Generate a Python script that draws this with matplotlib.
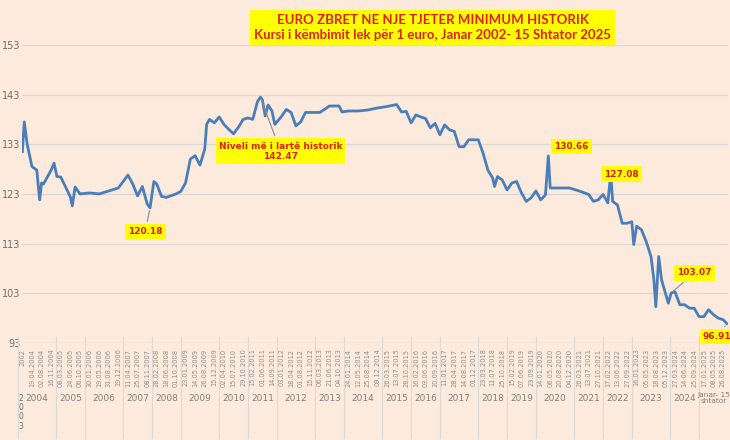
import matplotlib.pyplot as plt
import matplotlib.transforms as mtransforms

BG = "#FCEADC"
LINE = "#4A7EBB"
RED = "#E0201A"
YEL = "#FFFF00"
GREY = "#8C8C8C"

# series, x = position on the category axis
idx = [0, 0.2, 0.5, 1, 1.5, 1.8, 2, 2.2, 3, 3.3, 3.6, 4, 4.5, 5, 5.2, 5.5, 6, 7, 8, 9, 10,
       11, 11.5, 12, 12.5, 13, 13.3, 13.7, 14, 14.5, 15, 16, 16.5, 17, 17.5, 18, 18.5, 19,
       19.2, 19.5, 20, 20.5, 21, 21.5, 22, 22.5, 23, 23.5, 24, 24.5, 24.8, 25, 25.3, 25.6,
       26, 26.3, 27, 27.5, 28, 28.5, 29, 29.5, 30, 31, 32, 33, 33.3, 34, 35, 36, 37, 38, 39,
       39.5, 40, 40.5, 41, 41.5, 42, 42.5, 43, 43.5, 44, 44.5, 45, 45.5, 46, 46.5, 47, 47.5,
       48, 48.5, 49, 49.2, 49.5, 50, 50.5, 51, 51.5, 52, 52.5, 53, 53.5, 54, 54.5, 54.8, 55,
       56, 57, 58, 59, 59.5, 60, 60.5, 61, 61.3, 61.5, 62, 62.5, 63, 63.5, 63.7, 64, 64.5,
       65, 65.5, 65.8, 66, 66.3, 66.6, 67, 67.3, 67.6, 68, 68.5, 69, 69.5, 70, 70.5, 71,
       71.5, 72, 72.5, 73, 73.4]
vals = [131.5, 137.5, 133, 128.5, 127.8, 121.8, 125.2, 125, 127.8, 129.2, 126.5, 126.4,
        124.4, 122.4, 120.6, 124.4, 123, 123.2, 123, 123.6, 124.2, 126.8, 125, 122.6, 124.5,
        121, 120.18, 125.5, 125, 122.5, 122.3, 123, 123.5, 125.2, 130, 130.7, 128.8, 132,
        137, 138, 137.3, 138.5, 137, 136, 135.1, 136.4, 138, 138.3, 138, 141.6, 142.47, 142,
        138.7, 140.9, 139.7, 137, 138.6, 140, 139.4, 136.7, 137.5, 139.4, 139.4, 139.4,
        140.7, 140.7, 139.5, 139.7, 139.7, 139.9, 140.3, 140.6, 141, 139.5, 139.6, 137.3,
        138.9, 138.5, 138.2, 136.3, 137.2, 134.9, 136.9, 135.9, 135.6, 132.5, 132.5, 133.9,
        133.9, 133.9, 131.2, 127.8, 126.2, 124.5, 126.5, 125.8, 123.8, 125.2, 125.5, 123.2,
        121.5, 122.2, 123.6, 121.8, 122.8, 130.66, 124.2, 124.2, 124.2, 123.6, 122.9, 121.5,
        121.8, 122.9, 121.2, 127.08, 121.5, 120.8, 117.1, 117.1, 117.4, 112.8, 116.5, 115.8,
        113.4, 110.4, 105.7, 100.3, 110.4, 105.7, 103, 101, 103.07, 103.3, 100.7, 100.7, 100,
        100, 98.3, 98.3, 99.7, 98.7, 98, 97.7, 96.91]

date_labels = ["2002", "19.04.2004", "02.08.2004", "16.11.2004", "08.03.2005", "24.06.2005",
               "06.10.2005", "30.01.2006", "19.05.2006", "31.08.2006", "19.12.2006",
               "11.04.2007", "25.07.2007", "08.11.2007", "28.02.2008", "18.06.2008",
               "01.10.2008", "23.01.2009", "14.05.2009", "26.08.2009", "15.12.2009",
               "02.04.2010", "15.07.2010", "29.10.2010", "15.02.2011", "01.06.2011",
               "14.09.2011", "03.01.2012", "18.04.2012", "01.08.2012", "15.11.2012",
               "06.03.2013", "21.06.2013", "04.10.2013", "24.01.2014", "12.05.2014",
               "25.08.2014", "09.12.2014", "26.03.2015", "13.07.2015", "28.10.2015",
               "16.02.2016", "03.06.2016", "20.09.2016", "11.01.2017", "28.04.2017",
               "14.08.2017", "01.12.2017", "23.03.2018", "11.07.2018", "25.10.2018",
               "15.02.2019", "07.06.2019", "23.09.2019", "14.01.2020", "06.05.2020",
               "20.08.2020", "04.12.2020", "26.03.2021", "13.07.2021", "27.10.2021",
               "17.02.2022", "13.06.2022", "27.09.2022", "16.01.2023", "05.05.2023",
               "18.08.2023", "05.12.2023", "27.03.2024", "14.06.2024", "25.09.2024",
               "17.01.2025", "08.05.2025", "26.08.2025"]

year_labels = ["2004", "2005", "2006", "2007", "2008", "2009", "2010", "2011", "2012", "2013",
               "2014", "2015", "2016", "2017", "2018", "2019", "2020", "2021", "2022", "2023",
               "2024", "Janar- 15\nshtator"]
year_start = [0, 4, 7, 11, 14, 17, 21, 24, 27, 31, 34, 38, 41, 44, 48, 51, 54, 58, 61, 64,
              68, 71]

y_ticks = [93, 103, 113, 123, 133, 143, 153]

# (text, box x, box y, point x, point y)
notes = [("120.18", 12.8, 115.4, 13.3, 120.18),
         ("Niveli më i lartë historik\n142.47", 26.9, 131.6, 24.8, 142.47),
         ("130.66", 57.2, 132.6, None, None),
         ("127.08", 62.4, 127.0, None, None),
         ("103.07", 70.0, 107.1, 67.6, 103.07),
         ("96.91", 72.4, 94.3, 73.4, 96.91)]

fig = plt.figure(figsize=(7.3, 4.4), dpi=100, facecolor=BG)
ax = fig.add_axes([0.030, 0.2205, 0.967, 0.6775], facecolor=BG)
ax.plot(idx, vals, color=LINE, lw=2.0, zorder=3)
ax.set_xlim(-0.05, 73.5)
ax.set_ylim(93, 153)
ax.set_yticks(y_ticks)
ax.tick_params(axis="y", length=0, labelsize=7, colors="#707070", pad=1)
ax.yaxis.grid(True, color="#D9D9D9", lw=1)
for s in ax.spines.values():
    s.set_visible(False)
ax.set_xticks(range(len(date_labels)))
ax.set_xticklabels(date_labels, rotation=90, fontsize=4.8, color="#909090")
ax.tick_params(axis="x", length=0, pad=4)

trans = mtransforms.blended_transform_factory(ax.transData, ax.transAxes)
bounds = year_start + [len(date_labels)]
for i, lab in enumerate(year_labels):
    x0, x1 = bounds[i] - 0.5, bounds[i + 1] - 0.5
    ax.plot([x0, x0], [0.02, -0.32], transform=trans, color="#DADADA", lw=0.8, clip_on=False)
    ax.text((x0 + x1) / 2, -0.185, lab, transform=trans, ha="center", va="center",
            fontsize=6.5 if "\n" not in lab else 5.3, color="#808080", linespacing=1.1)
ax.text(-0.15, -0.17, "2\n0\n0\n3", transform=trans, ha="center", va="top",
        fontsize=5.5, color="#707070", linespacing=1.05)

for text, tx, ty, px, py in notes:
    box = dict(boxstyle="square,pad=0.35", fc=YEL, ec="none")
    if px is None:
        ax.text(tx, ty, text, ha="center", va="center", fontsize=6.5, color=RED,
                fontweight="bold", bbox=box, zorder=5)
    else:
        ax.annotate(text, xy=(px, py), xytext=(tx, ty), ha="center", va="center",
                    fontsize=6.5, color=RED, fontweight="bold", bbox=box, zorder=5,
                    annotation_clip=False,
                    arrowprops=dict(arrowstyle="-", color=GREY, lw=0.8))

fig.text(0.593, 0.938, "EURO ZBRET NE NJE TJETER MINIMUM HISTORIK\n"
         "Kursi i këmbimit lek për 1 euro, Janar 2002- 15 Shtator 2025",
         ha="center", va="center", fontsize=9.5, color=RED, fontweight="bold",
         family="Lato", linespacing=1.35,
         bbox=dict(boxstyle="square,pad=0.3", fc=YEL, ec="none"))

fig.savefig("out.png", dpi=100, facecolor=BG)
